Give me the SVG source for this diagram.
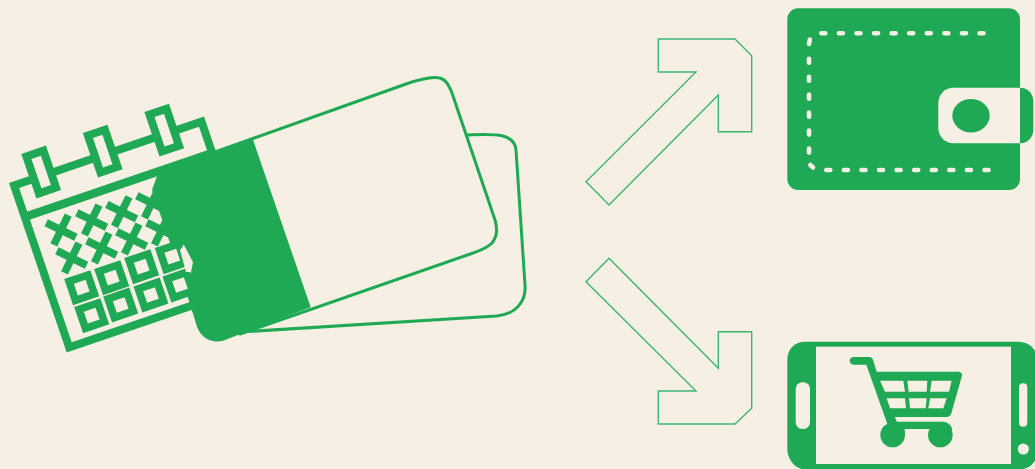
<svg xmlns="http://www.w3.org/2000/svg" width="1035" height="469" viewBox="0 0 1035 469">
<style>
.bg{fill:#f5efe4}
.g{fill:#1fa955}
.c{fill:#f5efe4}
.frame{fill:#f5efe4;stroke:#1fa955;stroke-width:8}
.line{fill:#f5efe4;stroke:#1fa955;stroke-width:3;stroke-linejoin:round}
.arrow{fill:none;stroke:#3db671;stroke-width:1.4}
.cross{fill:none;stroke:#1fa955;stroke-width:7.6}
.sq{fill:none;stroke:#1fa955;stroke-width:7.6}
.dash{fill:none;stroke:#f5efe4;stroke-width:4.6;stroke-linecap:round}
</style>
<defs>
<path id="x" class="cross" d="M-16.5 0H16.5M0 -16.5V16.5"/>
<rect id="s" class="sq" x="-10" y="-10" width="20" height="20"/>
</defs>
<rect class="bg" width="1035" height="469"/>
<g id="calendar">
<g transform="translate(9 183) rotate(-18.8)">
<rect class="frame" x="4" y="4" width="198" height="171"/>
<rect class="g" x="3" y="33" width="200" height="8.5"/>
<rect class="frame" x="25" y="-19.5" width="18" height="39"/>
<rect class="frame" x="90" y="-19.5" width="18" height="39"/>
<rect class="frame" x="155" y="-19.5" width="18" height="39"/>
</g>
<use href="#x" transform="translate(61 230) rotate(26)"/>
<use href="#x" transform="translate(91.7 220) rotate(26)"/>
<use href="#x" transform="translate(121.7 211.7) rotate(26)"/>
<use href="#x" transform="translate(151.7 203) rotate(26)"/>
<use href="#x" transform="translate(71.7 258) rotate(26)"/>
<use href="#x" transform="translate(101.7 248) rotate(26)"/>
<use href="#x" transform="translate(131.7 239) rotate(26)"/>
<use href="#x" transform="translate(161.7 230) rotate(26)"/>
<use href="#s" transform="translate(81.7 287.7) rotate(-18.8)"/>
<use href="#s" transform="translate(111.7 277.7) rotate(-18.8)"/>
<use href="#s" transform="translate(141.7 266.7) rotate(-18.8)"/>
<use href="#s" transform="translate(172.3 256.7) rotate(-18.8)"/>
<use href="#s" transform="translate(91.7 315.7) rotate(-18.8)"/>
<use href="#s" transform="translate(120.7 305) rotate(-18.8)"/>
<use href="#s" transform="translate(151 295) rotate(-18.8)"/>
<use href="#s" transform="translate(180 285) rotate(-18.8)"/>
</g>
<g id="card-back">
<path class="line" d="M240 332L496.7 316C506 315 515 311 520 304C525 298 525.5 292 525 285L516 150C515.5 142 510 138 503 136C492 133.5 480 134.5 467 135Z"/>
</g>
<g id="card-front">
<path class="line" d="M215 152L406 84C420 79 432 76 440 78C447 80 449.5 87 452 93L495 220C498 230 497 237 492 243C486 249 478 251 473 253L240 334Z"/>
<path class="c" d="M184 245L193 262L192 272L186 272L180 250Z"/>
<path class="g" d="M218 150L252.7 139L310.7 307.3L243 333L223 340.7C215 343 207 340 203 336C199 332 197 328 195 320L188 298L191 272L193 262L184 245L170 243L152 190L157 176L206 158Z"/>
</g>
<g id="connectors">
<path class="arrow" d="M658.3 39H735L751.7 55.7V131.7H718.3V95L609 205L586 181.7L696 72H658.3Z"/>
<path class="arrow" d="M609 258.3L718.3 368.3V331.7H751.7V408.3L735 424H658.3V391H696L586 281.7Z"/>
</g>
<g id="wallet">
<rect class="g" x="787.3" y="8.3" width="232.7" height="181.7" rx="11"/>
<path class="g" d="M1018 87.7H1020C1028 87.7 1033.3 94 1033.3 101V130C1033.3 137 1028 143.3 1020 143.3H1018Z"/>
<path class="c" d="M1020 87.7V143.3H953.3C945 143.3 938.3 136.5 938.3 128V103C938.3 94.5 945 87.7 953.3 87.7Z"/>
<ellipse class="g" cx="971" cy="115.7" rx="18.7" ry="16.7"/>
<path class="dash" stroke-dasharray="4 13.58" d="M821.3 33.3H990"/>
<path class="dash" stroke-dasharray="4 13.58" d="M826.3 170H992"/>
<path class="dash" stroke-dasharray="4 13.98" d="M809 58.7V155"/>
<path class="dash" d="M809 44L809.8 39.6"/>
<path class="dash" d="M810.3 165L813 167.5"/>
</g>
<g id="phone">
<path class="g" d="M805.3 341.7H1018C1030 341.7 1037 350 1037 360V451C1037 462 1030 469.5 1018 469.5H805.3C795 469.5 787.3 459 787.3 449V359.7C787.3 349 795 341.7 805.3 341.7Z"/>
<rect class="c" x="816" y="346.7" width="195" height="117.3"/>
<rect class="c" x="795.7" y="382.3" width="14.3" height="46.7" rx="6.5"/>
<rect class="c" x="1019" y="383.3" width="8.3" height="43.4" rx="4"/>
<circle class="c" cx="1023.3" cy="449" r="5.6"/>
<g transform="translate(770 330) scale(.33333)">
<path class="g" d="M251 81H297C303 81 307 84 309 89L320 125H565C574 125 578 132 575 140L544 250C542 257 536 261 530 261H374L381 275H520C532 276 540 283 545 292L548 315A37 37 0 1 1 474 315C474 308 476 302 479 297H404C405 303 405 309 405 315A37 37 0 1 1 331 315C331 299 340 287 352 282L289 104H251C235 104 235 81 251 81Z"/>
<path class="c" d="M330 152H400L405 185H345ZM412 152H472L470 185H416ZM485 152H545L537 185H480ZM350 205H405L408 235H360ZM417 205H470L467 235H420ZM480 205H530L520 235H475Z"/>
</g>
</g>
</svg>
